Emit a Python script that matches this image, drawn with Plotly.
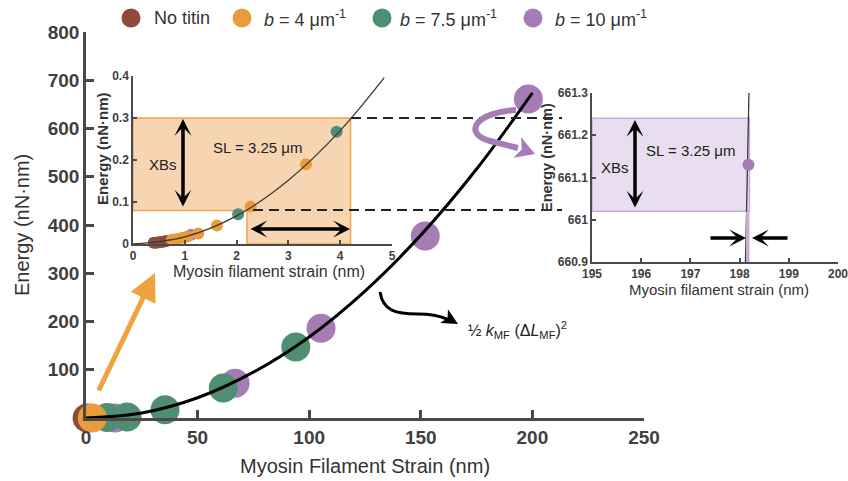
import plotly.graph_objects as go

W, H = 848, 481

# ---------------- data ----------------
series_labels = ["No titin", "<i>b</i> = 4 μm<sup>-1</sup>",
                 "<i>b</i> = 7.5 μm<sup>-1</sup>", "<i>b</i> = 10 μm<sup>-1</sup>"]
series_colors = ["#8E4A3B", "#E99D3A", "#4F8E72", "#A67CB6"]

# main panel (nm, nN·nm)
main_x_notitin = [0.5]
main_y_notitin = [0]
main_x_b4 = [2.8]
main_y_b4 = [0]
main_x_b75 = [9.5, 18.4, 35.4, 61.5, 94.0]
main_y_b75 = [1, 2, 17, 62, 147]
main_x_b10 = [13, 66.8, 105.3, 152, 198.2]
main_y_b10 = [0, 72, 186, 377, 661.1]

curve_x = [0, 25, 50, 75, 100, 125, 150, 175, 200]
curve_y = [0, 10.5, 42, 95, 168, 263, 379, 516, 674]

main_xticks = [0, 50, 100, 150, 200, 250]
main_yticks = [100, 200, 300, 400, 500, 600, 700, 800]

# inset 1 (zoom near origin)
in1_x_notitin = [0.40, 0.45, 0.50, 0.55, 0.60, 0.65]
in1_y_notitin = [0.003, 0.003, 0.004, 0.005, 0.006, 0.007]
in1_x_b4 = [0.75, 0.85, 0.95, 1.05, 1.26, 1.62, 2.27, 3.34]
in1_y_b4 = [0.010, 0.012, 0.015, 0.018, 0.025, 0.044, 0.089, 0.190]
in1_x_b75 = [2.03, 3.93]
in1_y_b75 = [0.071, 0.267]
in1_x_b10 = [1.12]
in1_y_b10 = [0.022]
in1_curve_x = [0, 1, 2, 3, 4, 4.85]
in1_curve_y = [0, 0.017, 0.067, 0.152, 0.27, 0.396]
in1_xticks = [0, 1, 2, 3, 4, 5]
in1_yticks = [0, 0.1, 0.2, 0.3, 0.4]
in1_ytext = ["0", "0.1", "0.2", "0.3", "0.4"]
in1_box = dict(x_left=0, x_mid=2.2, x_right=4.2, y_low=0.08, y_high=0.3)

# inset 2 (zoom near b = 10 top point)
in2_x_b10 = [198.18]
in2_y_b10 = [661.13]
in2_curve_x = [198.12, 198.19]
in2_curve_y = [660.9, 661.3]
in2_xticks = [195, 196, 197, 198, 199, 200]
in2_yticks = [660.9, 661.0, 661.1, 661.2, 661.3]
in2_ytext = ["660.9", "661", "661.1", "661.2", "661.3"]
in2_box = dict(x_left=195, x_mid=198.13, x_right=198.2, y_low=661.02, y_high=661.24)

# ---------------- helpers ----------------
def px(x):
    return x / W

def py(y):
    return 1 - y / H

def P(x, y):
    return f"{px(x):.5f},{py(y):.5f}"

def head_path(tip, d, L, hw, notch):
    import math
    n = math.hypot(d[0], d[1])
    dx, dy = d[0] / n, d[1] / n
    nx, ny = -dy, dx
    bx, by = tip[0] - L * dx, tip[1] - L * dy
    c1 = (bx + hw * nx, by + hw * ny)
    c2 = (bx - hw * nx, by - hw * ny)
    m = (bx + notch * dx, by + notch * dy)
    return f"M {P(*tip)} L {P(*c1)} L {P(*m)} L {P(*c2)} Z"

FONT = "Liberation Sans"
AX = "#4a4a4a"
TXT = "#333333"

fig = go.Figure()

# ---------------- main traces ----------------
order = [(main_x_notitin, main_y_notitin, 0), (main_x_b10, main_y_b10, 3),
         (main_x_b75, main_y_b75, 2), (main_x_b4, main_y_b4, 1)]
for xs, ys, ci in order:
    fig.add_trace(go.Scatter(x=xs, y=ys, mode="markers", xaxis="x", yaxis="y",
                             marker=dict(size=29, color=series_colors[ci], line=dict(width=0)),
                             cliponaxis=False, showlegend=False, hoverinfo="skip"))
fig.add_trace(go.Scatter(x=curve_x, y=curve_y, mode="lines", xaxis="x", yaxis="y",
                         line=dict(color="black", width=3, shape="spline"),
                         cliponaxis=False, showlegend=False, hoverinfo="skip"))

# ---------------- inset 1 traces ----------------
order1 = [(in1_x_notitin, in1_y_notitin, 0), (in1_x_b10, in1_y_b10, 3),
          (in1_x_b75, in1_y_b75, 2), (in1_x_b4, in1_y_b4, 1)]
for xs, ys, ci in order1:
    fig.add_trace(go.Scatter(x=xs, y=ys, mode="markers", xaxis="x2", yaxis="y2",
                             marker=dict(size=12, color=series_colors[ci], line=dict(width=0)),
                             cliponaxis=False, showlegend=False, hoverinfo="skip"))
fig.add_trace(go.Scatter(x=in1_curve_x, y=in1_curve_y, mode="lines", xaxis="x2", yaxis="y2",
                         line=dict(color="#3a3a3a", width=1.3, shape="spline"),
                         cliponaxis=False, showlegend=False, hoverinfo="skip"))

# ---------------- inset 2 traces ----------------
fig.add_trace(go.Scatter(x=in2_curve_x, y=in2_curve_y, mode="lines", xaxis="x3", yaxis="y3",
                         line=dict(color="#3a3a3a", width=1.3),
                         cliponaxis=False, showlegend=False, hoverinfo="skip"))
fig.add_trace(go.Scatter(x=in2_x_b10, y=in2_y_b10, mode="markers", xaxis="x3", yaxis="y3",
                         marker=dict(size=12, color=series_colors[3], line=dict(width=0)),
                         cliponaxis=False, showlegend=False, hoverinfo="skip"))

# ---------------- shapes ----------------
shapes = []
b = in1_box
shapes.append(dict(type="path", xref="x2", yref="y2", layer="below",
                   path=(f"M {b['x_left']},{b['y_low']} L {b['x_left']},{b['y_high']} "
                         f"L {b['x_right']},{b['y_high']} L {b['x_right']},0 "
                         f"L {b['x_mid']},0 L {b['x_mid']},{b['y_low']} Z"),
                   fillcolor="#F7D5B3", line=dict(color="#EFA64C", width=1.5)))
b = in2_box
shapes.append(dict(type="path", xref="x3", yref="y3", layer="below",
                   path=(f"M {b['x_left']},{b['y_low']} L {b['x_left']},{b['y_high']} "
                         f"L {b['x_right']},{b['y_high']} L {b['x_right']},{b['y_low']} Z"),
                   fillcolor="#E9DEEF", line=dict(color="#C9A9D7", width=1.5)))
shapes.append(dict(type="rect", xref="x3", yref="y3", layer="above",
                   x0=b['x_mid'], x1=b['x_right'], y0=660.9, y1=b['y_low'],
                   fillcolor="#C9A9D7", line=dict(width=0)))

# dashed connectors
for (x0, x1, yy) in [(351, 562, 118), (253, 562, 210)]:
    shapes.append(dict(type="line", xref="paper", yref="paper",
                       x0=px(x0), x1=px(x1), y0=py(yy), y1=py(yy),
                       line=dict(color="#222222", width=2, dash="10px,6px")))

# purple curved arrow
shapes.append(dict(type="path", xref="paper", yref="paper",
                   path=f"M {P(516,110)} C {P(476,112)} {P(462,133)} {P(490,141)} L {P(518,148)}",
                   fillcolor="rgba(0,0,0,0)", line=dict(color="#A67CB6", width=6)))
shapes.append(dict(type="path", xref="paper", yref="paper",
                   path=head_path((535, 154), (19, 7), 19, 11, 5),
                   fillcolor="#A67CB6", line=dict(width=0)))

# black curved arrow
shapes.append(dict(type="path", xref="paper", yref="paper",
                   path=f"M {P(380,292)} C {P(383,311)} {P(396,314)} {P(418,314)} C {P(432,314)} {P(440,316)} {P(447,319)}",
                   fillcolor="rgba(0,0,0,0)", line=dict(color="black", width=3)))
shapes.append(dict(type="path", xref="paper", yref="paper",
                   path=head_path((458, 324), (0.87, 0.49), 16, 8, 4),
                   fillcolor="black", line=dict(width=0)))

# legend circles
legend_cx = [131, 242, 382, 533]
legend_tx = [152, 262, 398, 553]
for cx, col in zip(legend_cx, series_colors):
    r = 9.5
    shapes.append(dict(type="circle", xref="paper", yref="paper",
                       x0=px(cx - r), x1=px(cx + r), y0=py(18 + r), y1=py(18 - r),
                       fillcolor=col, line=dict(width=0)))

# ---------------- annotations ----------------
ann = []
for tx, lab in zip(legend_tx, series_labels):
    ann.append(dict(x=px(tx), y=py(18), xref="paper", yref="paper", text=lab,
                    showarrow=False, xanchor="left", yanchor="middle",
                    font=dict(family=FONT, size=18, color=TXT)))

def title(x, y, text, size, angle=0, weight="normal"):
    ann.append(dict(x=px(x), y=py(y), xref="paper", yref="paper", text=text,
                    showarrow=False, xanchor="center", yanchor="middle", textangle=angle,
                    font=dict(family=FONT, size=size, color=TXT, weight=weight)))

title(365, 466, "Myosin Filament Strain (nm)", 20)
title(22, 225, "Energy (nN·nm)", 20, -90)
title(269, 271, "Myosin filament strain (nm)", 16)
title(103, 149, "Energy (nN·nm)", 15, -90, "bold")
title(719, 289, "Myosin filament strain (nm)", 15)
title(547, 158, "Energy (nN·nm)", 14.5, -90, "bold")

def txt(x, y, text, size=15):
    ann.append(dict(x=px(x), y=py(y), xref="paper", yref="paper", text=text,
                    showarrow=False, xanchor="center", yanchor="middle",
                    font=dict(family=FONT, size=size, color="#222222")))

txt(163, 165, "XBs")
txt(257, 147, "SL = 3.25 μm")
txt(615, 167, "XBs")
txt(690, 150, "SL = 3.25 μm")
txt(517, 330, "½ <i>k</i><sub>MF</sub> (Δ<i>L</i><sub>MF</sub>)<sup>2</sup>", 16)

def arrow(hx, hy, tx, ty, width, head, size, color="black", both=False):
    ann.append(dict(x=px(hx), y=py(hy), xref="paper", yref="paper", text="",
                    showarrow=True, ax=tx - hx, ay=ty - hy, axref="pixel", ayref="pixel",
                    arrowhead=head, startarrowhead=head, arrowsize=size, startarrowsize=size,
                    arrowwidth=width, arrowcolor=color, standoff=0, startstandoff=0,
                    arrowside="end+start" if both else "end"))

arrow(155, 273, 98, 392, 5, 2, 1.1, color="#EFA33F")
arrow(183, 119, 183, 208, 3.5, 3, 0.8, both=True)
arrow(350, 229, 249, 229, 3.5, 3, 0.8, both=True)
arrow(635, 120, 635, 209, 3.5, 3, 0.8, both=True)
arrow(746, 238, 709, 238, 3.5, 3, 0.8)
arrow(752, 238, 789, 238, 3.5, 3, 0.8)

# ---------------- layout ----------------
def axis_common(size, lw, tl):
    return dict(showline=True, linecolor=AX, linewidth=lw, ticks="inside", ticklen=tl,
                tickwidth=lw, tickcolor=AX, showgrid=False, zeroline=False,
                automargin=False, ticklabeloverflow="allow",
                tickfont=dict(family=FONT, size=size, color="#404040", weight="bold"),
                fixedrange=True)

fig.update_layout(
    width=W, height=H, autosize=False,
    margin=dict(l=0, r=0, t=0, b=0, autoexpand=False),
    paper_bgcolor="white", plot_bgcolor="rgba(0,0,0,0)",
    showlegend=False,
    xaxis=dict(domain=[px(86), px(644)], range=[0, 250], anchor="y",
               tickvals=main_xticks, **axis_common(19, 2.5, 8)),
    yaxis=dict(domain=[py(418), py(32)], range=[0, 800], anchor="x",
               tickvals=main_yticks, **axis_common(19, 2.5, 8)),
    xaxis2=dict(domain=[px(133), px(392)], range=[0, 5], anchor="y2",
                tickvals=in1_xticks, **axis_common(12, 1.5, 4)),
    yaxis2=dict(domain=[py(244), py(76)], range=[0, 0.4], anchor="x2",
                tickvals=in1_yticks, ticktext=in1_ytext, **axis_common(12, 1.5, 4)),
    xaxis3=dict(domain=[px(592), px(838)], range=[195, 200], anchor="y3",
                tickvals=in2_xticks, **axis_common(12, 1.5, 4)),
    yaxis3=dict(domain=[py(262), py(93)], range=[660.9, 661.3], anchor="x3",
                tickvals=in2_yticks, ticktext=in2_ytext, **axis_common(12, 1.5, 4)),
    shapes=shapes,
    annotations=ann,
)

fig.write_html("out.html", config={"displayModeBar": False},
               post_script="document.body.style.margin='0';document.body.style.overflow='hidden';")
